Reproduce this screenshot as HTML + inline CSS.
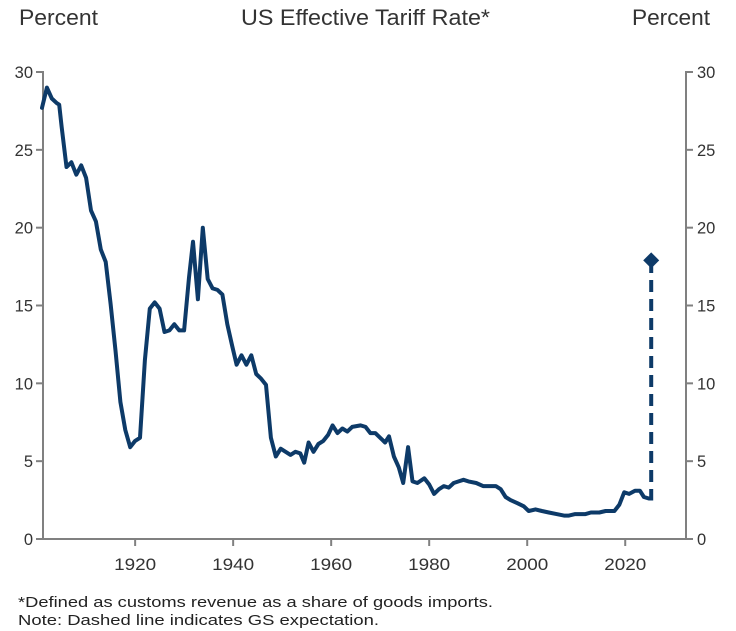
<!DOCTYPE html>
<html><head><meta charset="utf-8"><style>
body{margin:0;background:#fff;}
svg{display:block;font-family:"Liberation Sans",Arial,sans-serif;}
</style></head><body>
<svg id="chart" width="736" height="631" viewBox="0 0 736 631">
<text x="19" y="25" font-size="22" fill="#333" textLength="79" lengthAdjust="spacingAndGlyphs">Percent</text>
<text x="241" y="25" font-size="22" fill="#333" textLength="249" lengthAdjust="spacingAndGlyphs">US Effective Tariff Rate*</text>
<text x="632" y="25" font-size="22" fill="#333" textLength="78" lengthAdjust="spacingAndGlyphs">Percent</text>
<g id="axes"></g>
<g id="series"></g>
<text x="18" y="607" font-size="14.5" fill="#222" textLength="475" lengthAdjust="spacingAndGlyphs">*Defined as customs revenue as a share of goods imports.</text>
<text x="18" y="625" font-size="14.5" fill="#222" textLength="361" lengthAdjust="spacingAndGlyphs">Note: Dashed line indicates GS expectation.</text>
</svg>
<script>
const years=[1901,1902,1903,1904,1904.5,1905,1906,1907,1908,1909,1910,1911,1912,1913,1914,1915,1916,1917,1918,1919,1920,1921,1922,1923,1924,1925,1926,1927,1928,1929,1930,1931,1931.8,1932.8,1933.8,1934.8,1935.8,1936.8,1937.8,1938.8,1939.8,1940.7,1941.7,1942.7,1943.7,1944.7,1945.7,1946.7,1947.7,1948.7,1949.7,1950.7,1951.7,1952.7,1953.7,1954.5,1955.4,1956.4,1957.4,1958.4,1959.4,1960.3,1961.3,1962.3,1963.3,1964.3,1966,1967,1968,1969,1970,1971,1971.8,1972.8,1973.8,1974.7,1975.7,1976.6,1977.6,1979,1980,1981,1982,1983,1984,1985,1986,1987,1988,1989.6,1991,1992.2,1993.6,1994.6,1995.6,1996.6,1998,1999.3,2000.3,2001.7,2003,2004.4,2006,2007.5,2008.5,2009.8,2011.9,2013,2014.7,2016,2017.8,2018.8,2019.8,2020.8,2022,2023,2023.8,2024.8];
const rates=[27.7,29.0,28.3,28.0,27.9,26.5,23.9,24.2,23.4,24.0,23.2,21.1,20.4,18.6,17.8,15.1,12.1,8.8,7.0,5.9,6.3,6.5,11.5,14.8,15.2,14.8,13.3,13.4,13.8,13.4,13.4,16.8,19.1,15.4,20.0,16.7,16.1,16.0,15.7,13.8,12.4,11.2,11.8,11.2,11.8,10.6,10.3,9.9,6.5,5.3,5.8,5.6,5.4,5.6,5.5,4.9,6.2,5.6,6.1,6.3,6.7,7.3,6.8,7.1,6.9,7.2,7.3,7.2,6.8,6.8,6.5,6.2,6.6,5.3,4.6,3.6,5.9,3.7,3.6,3.9,3.5,2.9,3.2,3.4,3.3,3.6,3.7,3.8,3.7,3.6,3.4,3.4,3.4,3.2,2.7,2.5,2.3,2.1,1.8,1.9,1.8,1.7,1.6,1.5,1.5,1.6,1.6,1.7,1.7,1.8,1.8,2.2,3.0,2.9,3.1,3.1,2.7,2.6];
const forecastYear=2025.3;
const forecastValue=17.9;
const yTicks=[0,5,10,15,20,25,30];
const xTicks=[1920,1940,1960,1980,2000,2020];

const X0=43,X1=686,Y0=539,Y1=72;
const xMin=1901.2,xMax=2032.4,yMin=0,yMax=30;
const xs=v=>X0+(v-xMin)/(xMax-xMin)*(X1-X0);
const ys=v=>Y0-(v-yMin)/(yMax-yMin)*(Y0-Y1);
const NS="http://www.w3.org/2000/svg";
const axes=document.getElementById('axes'),series=document.getElementById('series');
function mk(tag,attrs,parent){const e=document.createElementNS(NS,tag);for(const k in attrs)e.setAttribute(k,attrs[k]);parent.appendChild(e);return e;}
const ac="#808080";
let e;
e=mk('line',{x1:X0,y1:Y1-1,x2:X0,y2:Y0+1,stroke:ac,'stroke-width':2},axes);


e=mk('line',{x1:X1,y1:Y1-1,x2:X1,y2:Y0+1,stroke:ac,'stroke-width':2},axes);


e=mk('line',{x1:X0-1,y1:Y0,x2:X1+1,y2:Y0,stroke:ac,'stroke-width':2},axes);


yTicks.forEach(t=>{
  const y=ys(t);
  mk('line',{x1:X0-7,y1:y,x2:X0,y2:y,stroke:ac,'stroke-width':2},axes);
  mk('line',{x1:X1,y1:y,x2:X1+7,y2:y,stroke:ac,'stroke-width':2},axes);
  let l=mk('text',{x:X0-10,y:y+6,'font-size':16.5,fill:'#333','text-anchor':'end'},axes);l.textContent=t;
  
  
  let r=mk('text',{x:X1+11,y:y+6,'font-size':16.5,fill:'#333'},axes);r.textContent=t;
  
  
});
xTicks.forEach(t=>{
  const x=xs(t);
  mk('line',{x1:x,y1:Y0,x2:x,y2:Y0+7,stroke:ac,'stroke-width':2},axes);
  let l=mk('text',{x:x-21,y:Y0+31,'font-size':16.5,fill:'#333',textLength:42,lengthAdjust:'spacingAndGlyphs'},axes);l.textContent=t;
  
  
});
const col="#0d3a68";
const d=years.map((y,i)=>(i?'L':'M')+xs(y).toFixed(1)+','+ys(rates[i]).toFixed(1)).join(' ');
e=mk('path',{d:d,fill:'none',stroke:col,'stroke-width':4,'stroke-linejoin':'round','stroke-linecap':'round'},series);


const lx=xs(years[years.length-1]),ly=ys(rates[rates.length-1]);
const fx=xs(forecastYear),fy=ys(forecastValue);
e=mk('path',{d:`M${lx},${ly} L${fx},${ly} L${fx},${fy}`,fill:'none',stroke:col,'stroke-width':4,'stroke-dasharray':'12,7'},series);


e=mk('path',{d:`M${fx},${fy-8} L${fx+8},${fy} L${fx},${fy+8} L${fx-8},${fy} Z`,fill:col},series);


</script>
</body></html>
